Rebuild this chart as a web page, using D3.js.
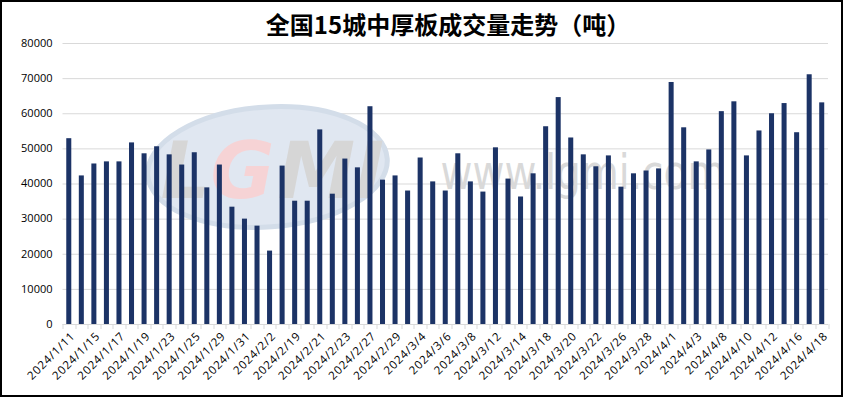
<!DOCTYPE html>
<html>
<head>
<meta charset="utf-8">
<script src="https://cdn.jsdelivr.net/npm/d3@7"></script>
<style>
  html, body { margin: 0; padding: 0; background: #fff; }
  svg { display: block; }
</style>
</head>
<body>
<div id="chart"></div>
<script>
// Trading dates (every other one is labelled on the axis)
const dates = [
  "2024/1/11", "2024/1/12", "2024/1/15", "2024/1/16", "2024/1/17", "2024/1/18", "2024/1/19", "2024/1/22",
  "2024/1/23", "2024/1/24", "2024/1/25", "2024/1/26", "2024/1/29", "2024/1/30", "2024/1/31", "2024/2/1",
  "2024/2/2", "2024/2/18", "2024/2/19", "2024/2/20", "2024/2/21", "2024/2/22", "2024/2/23", "2024/2/26",
  "2024/2/27", "2024/2/28", "2024/2/29", "2024/3/1", "2024/3/4", "2024/3/5", "2024/3/6", "2024/3/7",
  "2024/3/8", "2024/3/11", "2024/3/12", "2024/3/13", "2024/3/14", "2024/3/15", "2024/3/18", "2024/3/19",
  "2024/3/20", "2024/3/21", "2024/3/22", "2024/3/25", "2024/3/26", "2024/3/27", "2024/3/28", "2024/3/29",
  "2024/4/1", "2024/4/2", "2024/4/3", "2024/4/7", "2024/4/8", "2024/4/9", "2024/4/10", "2024/4/11",
  "2024/4/12", "2024/4/15", "2024/4/16", "2024/4/17", "2024/4/18"
];

// Volume in tonnes
const volumes = [
  52900, 42300, 45700, 46300, 46300, 51700, 48600, 50600,
  48300, 45400, 48900, 38900, 45400, 33400, 30000, 28000,
  20900, 45100, 35100, 35100, 55400, 37100, 47100, 44600,
  62000, 41100, 42300, 38000, 47400, 40600, 38000, 48600,
  40600, 37700, 50300, 41400, 36300, 42900, 56300, 64600,
  53100, 48300, 44900, 48000, 39100, 42900, 43700, 44300,
  68900, 56000, 46300, 49700, 60600, 63400, 48000, 55100,
  60000, 62900, 54600, 71100, 63100
];

const yTicks = [0, 10000, 20000, 30000, 40000, 50000, 60000, 70000, 80000];

const data = dates.map((d, i) => ({date: d, value: volumes[i]}));

// Dimensions
const W = 843, H = 397;
const margin = {top: 43, right: 15, bottom: 73, left: 62.5};
const width = W - margin.left - margin.right;
const height = H - margin.top - margin.bottom;

const svgRoot = d3.select("#chart")
  .append("svg")
  .attr("width", W)
  .attr("height", H);

// Outer frame
svgRoot.append("rect")
  .attr("x", 1).attr("y", 1)
  .attr("width", W - 2).attr("height", H - 2)
  .attr("fill", "#fff")
  .attr("stroke", "#000")
  .attr("stroke-width", 2);

// Title
svgRoot.append("text")
  .attr("x", 448)
  .attr("y", 34)
  .attr("text-anchor", "middle")
  .attr("font-family", "'Noto Sans CJK SC', sans-serif")
  .attr("font-size", "24px")
  .attr("font-weight", 700)
  .text("全国15城中厚板成交量走势（吨）");

const svg = svgRoot.append("g")
  .attr("transform", `translate(${margin.left}, ${margin.top})`);

// Scales
const x = d3.scaleBand()
  .domain(dates)
  .range([0, width])
  .paddingInner(0.6)
  .paddingOuter(0.3);

const y = d3.scaleLinear()
  .domain([0, 80000])
  .range([height, 0]);

// Gridlines
svg.append("g")
  .selectAll("line")
  .data(yTicks.slice(1))
  .enter()
  .append("line")
  .attr("x1", 0)
  .attr("x2", width)
  .attr("y1", d => y(d) + 0.5)
  .attr("y2", d => y(d) + 0.5)
  .attr("stroke", "#d9d9d9")
  .attr("stroke-width", 1);

// Watermark (faint logo behind the bars)
const wm = svg.append("g");
wm.append("ellipse")
  .attr("cx", 205).attr("cy", 124)
  .attr("rx", 120).attr("ry", 60)
  .attr("transform", "rotate(-4 205 124)")
  .attr("fill", "#e0e7f1")
  .attr("stroke", "#d3dde9")
  .attr("stroke-width", 5);
const logoFont = (sel) => sel
  .attr("font-family", "'DejaVu Sans', sans-serif")
  .attr("font-size", "78px")
  .attr("font-weight", 700)
  .attr("font-style", "italic");
wm.append("text").attr("x", 98).attr("y", 155).call(logoFont).attr("fill", "#d6d6d6").text("L");
wm.append("text").attr("x", 148).attr("y", 155).call(logoFont).attr("fill", "#f6d3d5").text("G");
wm.append("text").attr("x", 215).attr("y", 155).call(logoFont).attr("fill", "#d6d6d6").text("MI");
wm.append("text")
  .attr("x", 378).attr("y", 146)
  .attr("font-family", "'DejaVu Sans', sans-serif")
  .attr("font-size", "48px")
  .attr("textLength", 285)
  .attr("lengthAdjust", "spacingAndGlyphs")
  .attr("fill", "#d9d9d9")
  .text("www.lgmi.com");

// Bars
svg.selectAll(".bar")
  .data(data)
  .enter()
  .append("rect")
  .attr("class", "bar")
  .attr("x", d => x(d.date))
  .attr("y", d => y(d.value))
  .attr("width", x.bandwidth())
  .attr("height", d => height - y(d.value))
  .attr("fill", "#1c3366");

// Y axis labels
svg.append("g")
  .selectAll("text")
  .data(yTicks)
  .enter()
  .append("text")
  .attr("x", -10)
  .attr("y", d => y(d))
  .attr("dy", "0.35em")
  .attr("text-anchor", "end")
  .attr("font-family", "'Open Sans', sans-serif")
  .attr("font-size", "11px")
  .attr("fill", "#000")
  .text(d => d);

// X axis line and tick marks at category boundaries
const step = x.step();
const x0 = x(dates[0]) - step * x.paddingInner() / 2;
const bounds = d3.range(dates.length + 1).map(i => x0 + i * step);

svg.append("line")
  .attr("x1", 0).attr("x2", width)
  .attr("y1", height + 0.5).attr("y2", height + 0.5)
  .attr("stroke", "#d9d9d9");

svg.append("g")
  .selectAll("line")
  .data(bounds)
  .enter()
  .append("line")
  .attr("x1", d => Math.round(d) + 0.5)
  .attr("x2", d => Math.round(d) + 0.5)
  .attr("y1", height)
  .attr("y2", height + 5)
  .attr("stroke", "#d9d9d9");

// X labels, every other date, rotated
svg.append("g")
  .selectAll("text")
  .data(data.filter((d, i) => i % 2 === 0))
  .enter()
  .append("text")
  .attr("transform", d => `translate(${x(d.date) + x.bandwidth() / 2 + 4}, ${height + 10}) rotate(-45)`)
  .attr("text-anchor", "end")
  .attr("dy", "0.35em")
  .attr("font-family", "'Open Sans', sans-serif")
  .attr("font-size", "11.5px")
  .attr("letter-spacing", "0.8px")
  .attr("fill", "#000")
  .text(d => d.date);
</script>
</body>
</html>
